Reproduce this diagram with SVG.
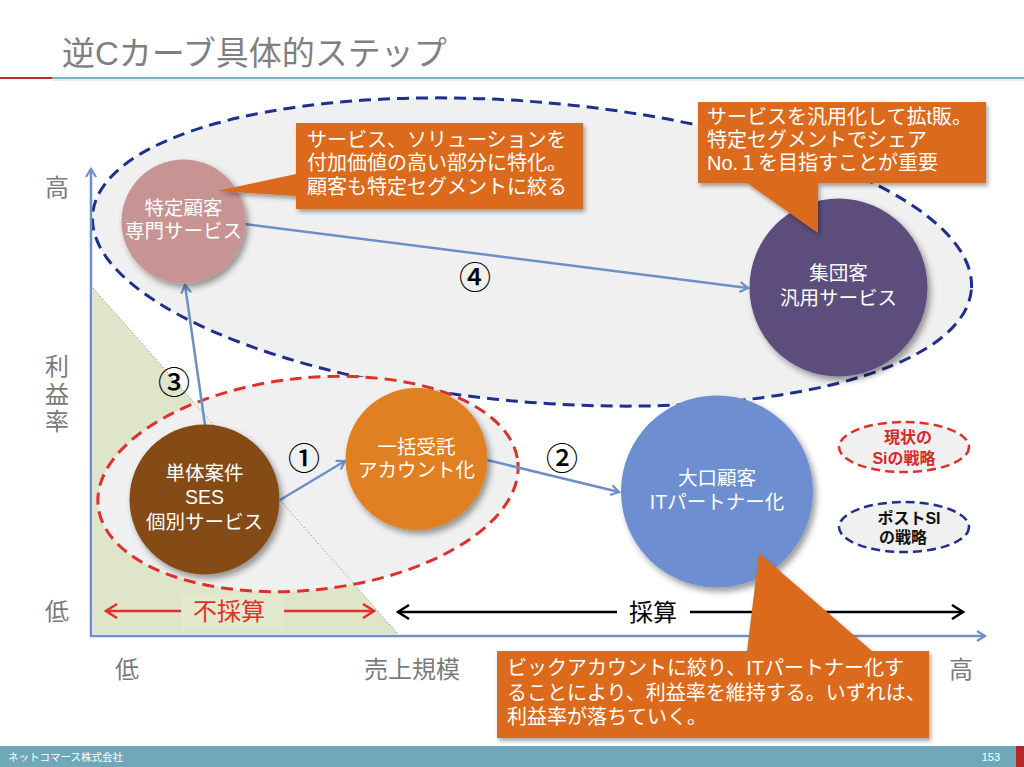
<svg xmlns="http://www.w3.org/2000/svg" width="1024" height="767" viewBox="0 0 1024 767">
<defs>
<style>
text{font-family:"Liberation Sans","Noto Sans CJK JP",sans-serif}
.nt{fill:#fff;font-size:19.5px;text-anchor:middle}
.co{fill:#fff;font-size:20px}
.ax{fill:#7a7a7a;font-size:24px;text-anchor:middle}
.num{fill:#000;font-size:32px;text-anchor:middle;font-family:"Noto Sans CJK JP",sans-serif;font-weight:500}
.conn{stroke:#6d8fc8;stroke-width:2.5;fill:none}
</style>
<filter id="sh" x="-20%" y="-20%" width="150%" height="150%">
<feDropShadow dx="3" dy="4" stdDeviation="3" flood-color="#000" flood-opacity="0.4"/>
</filter>
<filter id="sh2" x="-10%" y="-10%" width="130%" height="130%">
<feDropShadow dx="2" dy="3" stdDeviation="2" flood-color="#000" flood-opacity="0.35"/>
</filter>
<marker id="ab" markerWidth="12" markerHeight="12" refX="10" refY="6" orient="auto" markerUnits="userSpaceOnUse">
<path d="M2,1 L10,6 L2,11" fill="none" stroke="#6d8fc8" stroke-width="2.2"/>
</marker>
<marker id="ar" markerWidth="16" markerHeight="16" refX="14" refY="8" orient="auto-start-reverse" markerUnits="userSpaceOnUse">
<path d="M3,1 L14,8 L3,15" fill="none" stroke="#e0302a" stroke-width="2.5"/>
</marker>
<marker id="ak" markerWidth="16" markerHeight="16" refX="14" refY="8" orient="auto-start-reverse" markerUnits="userSpaceOnUse">
<path d="M3,1 L14,8 L3,15" fill="none" stroke="#000" stroke-width="2.5"/>
</marker>
</defs>
<rect width="1024" height="767" fill="#fff"/>

<!-- title -->
<g id="title">
<text x="62" y="65" font-size="33" fill="#7f7f7f">逆Cカーブ具体的ステップ</text>
<line x1="52" y1="78" x2="1024" y2="78" stroke="#7fb3c3" stroke-width="2"/>
<line x1="52" y1="80" x2="1024" y2="80" stroke="#d5e8ee" stroke-width="1.5"/>
<line x1="0" y1="78" x2="52" y2="78" stroke="#c0282a" stroke-width="2"/>
</g>

<!-- unprofitable zone -->
<polygon id="zone" points="93,288 93,634 398,634" fill="#dfe5c9"/>

<!-- strategy ellipses -->
<g id="postsi-area">
<ellipse cx="532" cy="252" rx="441" ry="150" transform="rotate(4.9 532 252)" fill="#f0f0f0" stroke="#1f2f8f" stroke-width="3" stroke-dasharray="12 7"/>
</g>
<g id="si-area">
<ellipse cx="308" cy="484" rx="211" ry="106" transform="rotate(-6 308 484)" fill="#f0f0f0" stroke="#e0302a" stroke-width="3" stroke-dasharray="12 7"/>
</g>
<line x1="93" y1="288" x2="398" y2="634" stroke="#999" stroke-width="1" stroke-dasharray="1.5 2"/>

<!-- axes -->
<g id="axes">
<line x1="91" y1="637" x2="91" y2="169" class="conn" marker-end="url(#ab)"/>
<line x1="90" y1="636" x2="985" y2="636" class="conn" marker-end="url(#ab)"/>
<text class="ax" x="57" y="196">高</text>
<text class="ax" x="57" y="375">利</text>
<text class="ax" x="57" y="403">益</text>
<text class="ax" x="57" y="430">率</text>
<text class="ax" x="57" y="620">低</text>
<text class="ax" x="127" y="678">低</text>
<text class="ax" x="412" y="678">売上規模</text>
<text class="ax" x="961" y="678">高</text>
</g>

<!-- connectors -->
<g id="connectors">
<line x1="205" y1="425" x2="185" y2="285" class="conn" marker-end="url(#ab)"/>
<line x1="245" y1="224" x2="748" y2="288" class="conn" marker-end="url(#ab)"/>
<line x1="280" y1="500" x2="345" y2="461" class="conn" marker-end="url(#ab)"/>
<line x1="487" y1="460" x2="619" y2="492" class="conn" marker-end="url(#ab)"/>
<text class="num" x="304" y="470">①</text>
<text class="num" x="562" y="470">②</text>
<text class="num" x="174" y="394">③</text>
<text class="num" x="475" y="289">④</text>
</g>

<!-- nodes -->
<g id="node-specific">
<circle cx="183.5" cy="221.5" r="62" fill="#c89393" filter="url(#sh)"/>
<text class="nt" x="183.5" y="215">特定顧客</text>
<text class="nt" x="183.5" y="238">専門サービス</text>
</g>
<g id="node-group">
<circle cx="838.5" cy="287.5" r="89" fill="#5b4e7c" filter="url(#sh)"/>
<text class="nt" x="838.5" y="280">集団客</text>
<text class="nt" x="838.5" y="305">汎用サービス</text>
</g>
<g id="node-single">
<circle cx="204.5" cy="499.5" r="75" fill="#844c12" filter="url(#sh)"/>
<text class="nt" x="204.5" y="480">単体案件</text>
<text class="nt" x="204.5" y="504">SES</text>
<text class="nt" x="204.5" y="529">個別サービス</text>
</g>
<g id="node-bulk">
<circle cx="416.5" cy="459" r="71" fill="#e08020" filter="url(#sh)"/>
<text class="nt" x="416.5" y="454">一括受託</text>
<text class="nt" x="416.5" y="477">アカウント化</text>
</g>
<g id="node-large">
<circle cx="717" cy="491.5" r="96" fill="#6d8fd1" filter="url(#sh)"/>
<text class="nt" x="717" y="485">大口顧客</text>
<text class="nt" x="717" y="509">ITパートナー化</text>
</g>

<!-- legend -->
<g id="legend-si">
<ellipse cx="904" cy="447" rx="65" ry="25" fill="#f0f0f0" stroke="#e0302a" stroke-width="2.5" stroke-dasharray="9 5"/>
<text x="908" y="443" font-size="16" font-weight="bold" fill="#d8282a" text-anchor="middle">現状の</text>
<text x="904" y="464" font-size="16" font-weight="bold" fill="#d8282a" text-anchor="middle">Siの戦略</text>
</g>
<g id="legend-postsi">
<ellipse cx="904" cy="527" rx="65" ry="25" fill="#f0f0f0" stroke="#1f2f8f" stroke-width="2.5" stroke-dasharray="9 5"/>
<text x="909" y="524" font-size="16" font-weight="bold" fill="#111" text-anchor="middle">ポストSI</text>
<text x="903" y="543" font-size="16" font-weight="bold" fill="#111" text-anchor="middle">の戦略</text>
</g>

<!-- profitability arrows -->
<g id="unprofitable">
<line x1="106" y1="611" x2="374" y2="611" stroke="#e0302a" stroke-width="2.5" marker-start="url(#ar)" marker-end="url(#ar)"/>
<rect x="181" y="594" width="103" height="35" fill="#e3e9cc"/>
<text x="229" y="620" font-size="24" fill="#e0302a" text-anchor="middle">不採算</text>
</g>
<g id="profitable">
<line x1="398" y1="612" x2="963" y2="612" stroke="#000" stroke-width="2.5" marker-start="url(#ak)" marker-end="url(#ak)"/>
<rect x="617" y="595" width="73" height="34" fill="#fff"/>
<text x="653" y="621" font-size="24" fill="#000" text-anchor="middle">採算</text>
</g>

<!-- callouts -->
<g id="callout-specific">
<path d="M296,123 H583 V209 H296 V196 L217,191 L296,174 Z" fill="#dc6a1f" filter="url(#sh2)"/>
<text class="co" x="307" y="147">サービス、ソリューションを</text>
<text class="co" x="307" y="170">付加価値の高い部分に特化。</text>
<text class="co" x="307" y="194">顧客も特定セグメントに絞る</text>
</g>
<g id="callout-group">
<path d="M698,102 H986 V183 H818 V233 L747,183 H698 Z" fill="#dc6a1f" filter="url(#sh2)"/>
<text class="co" x="707" y="124">サービスを汎用化して拡t販。</text>
<text class="co" x="707" y="147">特定セグメントでシェア</text>
<text class="co" x="707" y="170">No.１を目指すことが重要</text>
</g>
<g id="callout-large">
<path d="M497,651 H747 L759,553 L872,651 H929 V738 H497 Z" fill="#dc6a1f" filter="url(#sh2)"/>
<text class="co" x="507" y="675">ビックアカウントに絞り、ITパートナー化す</text>
<text class="co" x="507" y="700">ることにより、利益率を維持する。いずれは、</text>
<text class="co" x="507" y="724">利益率が落ちていく。</text>
</g>

<!-- footer -->
<g id="footer">
<rect x="0" y="746" width="1024" height="21" fill="#6ea8b9"/>
<rect x="1016" y="746" width="8" height="21" fill="#b5282a"/>
<text x="8" y="761" font-size="10.5" fill="#fff">ネットコマース株式会社</text>
<text x="1000" y="761" font-size="11" fill="#fff" text-anchor="end">153</text>
</g>
</svg>
